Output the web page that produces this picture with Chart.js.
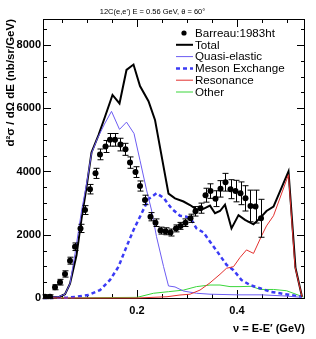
<!DOCTYPE html>
<html>
<head>
<meta charset="utf-8">
<script src="https://cdn.jsdelivr.net/npm/chart.js@4.4.1/dist/chart.umd.min.js"></script>
<style>
html, body { margin: 0; padding: 0; background: #fff; }
#wrap { width: 316px; height: 339px; }
</style>
</head>
<body>
<div id="wrap"><canvas id="xs-chart"></canvas></div>
<script>
// Barreau 1983 data points: energy transfer (GeV), cross section, error
const dataNu = [
	0.016, 0.026, 0.036, 0.046, 0.056, 0.066, 0.076, 0.087, 0.096, 0.106,
	0.117, 0.126, 0.137, 0.146, 0.156, 0.167, 0.177, 0.186, 0.197, 0.206,
	0.216, 0.227, 0.237, 0.247, 0.257, 0.267, 0.278, 0.287, 0.297, 0.307,
	0.317, 0.327, 0.337, 0.347, 0.357, 0.367, 0.377, 0.387, 0.397, 0.407,
	0.417, 0.427, 0.437, 0.448
]
const dataXs = [
	40, 40, 340, 500, 760, 1180, 1620, 2200, 2780, 3440,
	3940, 4540, 4790, 5000, 5000, 4850, 4700, 4280, 3980, 3540,
	3100, 2570, 2380, 2130, 2110, 2070, 2200, 2280, 2380, 2520,
	2740, 2840, 3250, 3380, 3140, 3450, 3660, 3440, 3380, 3310,
	3150, 2910, 2890, 2520
]
const dataErr = [
	60, 60, 80, 90, 100, 110, 120, 130, 140, 150,
	160, 170, 190, 200, 200, 200, 190, 180, 170, 160,
	150, 130, 120, 110, 110, 110, 110, 110, 120, 130,
	150, 160, 220, 230, 250, 260, 280, 300, 340, 360,
	400, 500, 520, 600
]

// model curves
const totalNu = [0.012, 0.045, 0.056, 0.066, 0.079, 0.089, 0.099, 0.109, 0.123, 0.136, 0.151, 0.165, 0.179, 0.193, 0.206, 0.223, 0.236, 0.263, 0.276, 0.293, 0.306, 0.319, 0.333, 0.346, 0.356, 0.366, 0.376, 0.389, 0.403, 0.416, 0.433, 0.447, 0.459, 0.473, 0.503, 0.517, 0.530]
const totalXs = [0, 40, 120, 450, 1350, 2500, 3500, 4600, 5150, 5730, 6420, 6150, 7210, 7380, 6700, 6220, 5630, 3300, 3150, 3050, 2940, 2800, 2820, 2920, 2680, 2750, 2950, 2200, 2620, 2470, 2330, 2540, 2750, 2890, 4000, 950, 40]

const qeNu = [0.012, 0.043, 0.056, 0.066, 0.076, 0.089, 0.099, 0.109, 0.121, 0.135, 0.149, 0.165, 0.179, 0.194, 0.206, 0.219, 0.229, 0.239, 0.253, 0.263, 0.276, 0.293, 0.319, 0.346, 0.400, 0.450, 0.500, 0.530]
const qeXs = [0, 40, 120, 450, 1400, 2750, 3600, 4570, 5050, 5500, 5900, 5330, 5560, 5200, 4350, 3420, 2780, 1940, 1000, 380, 350, 220, 150, 120, 100, 100, 60, 20]

const mecNu = [0.012, 0.060, 0.080, 0.103, 0.126, 0.146, 0.163, 0.179, 0.193, 0.206, 0.223, 0.239, 0.253, 0.269, 0.286, 0.299, 0.309, 0.319, 0.333, 0.346, 0.359, 0.379, 0.393, 0.409, 0.426, 0.446, 0.466, 0.486, 0.506, 0.530]
const mecXs = [0, 10, 40, 95, 250, 570, 990, 1620, 2150, 2570, 3130, 3310, 3170, 2830, 2600, 2570, 2470, 2200, 2070, 1780, 1500, 1050, 880, 570, 410, 310, 200, 150, 95, 40]

const resNu = [0.012, 0.200, 0.260, 0.286, 0.306, 0.326, 0.346, 0.366, 0.379, 0.393, 0.406, 0.419, 0.433, 0.449, 0.459, 0.473, 0.503, 0.516, 0.530]
const resXs = [0, 0, 40, 95, 120, 250, 480, 750, 940, 990, 1280, 1520, 1410, 1960, 2280, 2600, 3900, 990, 40]

const othNu = [0.012, 0.200, 0.233, 0.263, 0.293, 0.319, 0.346, 0.366, 0.386, 0.406, 0.429, 0.446, 0.473, 0.499, 0.533]
const othXs = [0, 20, 150, 200, 250, 360, 410, 410, 360, 360, 370, 270, 270, 230, 30]

const xTickLabels = [0.2, 0.4]
const yTickLabels = [0, 2000, 4000, 6000, 8000]

const pts = (xs, ys) => xs.map((v, i) => ({ x: v, y: ys[i] }))

// box frame with inward ticks on all four sides
const frameTicks = {
	id: 'frameTicks',
	beforeDatasetsDraw(chart) {
		const { ctx, chartArea: a, scales: { x, y } } = chart
		ctx.save()
		ctx.strokeStyle = '#000'
		ctx.lineWidth = 1
		ctx.strokeRect(a.left + 0.5, a.top + 0.5, a.right - a.left - 1, a.bottom - a.top)
		ctx.beginPath()
		for (let i = 1; i * 0.05 < x.max; i++) {
			const v = i * 0.05
			if (v <= x.min) continue
			const px = Math.round(x.getPixelForValue(v)) + 0.5
			const len = i % 4 === 0 ? 8 : 4
			ctx.moveTo(px, a.bottom)
			ctx.lineTo(px, a.bottom - len)
			ctx.moveTo(px, a.top)
			ctx.lineTo(px, a.top + len)
		}
		for (let i = 1; i * 500 < y.max; i++) {
			const py = Math.round(y.getPixelForValue(i * 500)) + 0.5
			const len = i % 4 === 0 ? 8 : 4
			ctx.moveTo(a.left, py)
			ctx.lineTo(a.left + len, py)
			ctx.moveTo(a.right, py)
			ctx.lineTo(a.right - len, py)
		}
		ctx.stroke()
		ctx.restore()
	}
}

const errorBars = {
	id: 'errorBars',
	afterDatasetsDraw(chart) {
		const { ctx, scales: { x, y } } = chart
		ctx.save()
		ctx.strokeStyle = '#000'
		ctx.lineWidth = 1
		ctx.beginPath()
		dataNu.forEach((nu, i) => {
			const px = Math.round(x.getPixelForValue(nu)) + 0.5
			const top = y.getPixelForValue(dataXs[i] + dataErr[i])
			const bot = y.getPixelForValue(dataXs[i] - dataErr[i])
			ctx.moveTo(px, top)
			ctx.lineTo(px, bot)
			ctx.moveTo(px - 3, top)
			ctx.lineTo(px + 3, top)
			ctx.moveTo(px - 3, bot)
			ctx.lineTo(px + 3, bot)
		})
		ctx.stroke()
		ctx.restore()
	}
}

// legend inside the frame, top right
const boxLegend = {
	id: 'boxLegend',
	afterDraw(chart) {
		const { ctx } = chart
		ctx.save()
		ctx.font = '11.6px "Liberation Sans", Arial, sans-serif'
		ctx.textBaseline = 'middle'
		ctx.fillStyle = '#000'
		chart.data.datasets.forEach((ds, i) => {
			const yy = 33 + i * 11.8
			if (ds.showLine) {
				ctx.strokeStyle = ds.borderColor
				ctx.lineWidth = ds.borderWidth
				ctx.setLineDash(ds.borderDash || [])
				ctx.beginPath()
				ctx.moveTo(176, yy)
				ctx.lineTo(193, yy)
				ctx.stroke()
				ctx.setLineDash([])
			} else {
				ctx.beginPath()
				ctx.arc(184, yy, 2.6, 0, Math.PI * 2)
				ctx.fill()
			}
			ctx.fillText(ds.label, 195, yy + 0.5)
		})
		ctx.restore()
	}
}

const lineSet = (label, xs, ys, color, width, order, dash) => ({
	label,
	data: pts(xs, ys),
	showLine: true,
	borderColor: color,
	backgroundColor: color,
	borderWidth: width,
	borderDash: dash,
	pointRadius: 0,
	tension: 0,
	clip: 3,
	order
})

new Chart(document.getElementById('xs-chart'), {
	type: 'scatter',
	data: {
		datasets: [
			{
				label: 'Barreau:1983ht',
				data: pts(dataNu, dataXs),
				showLine: false,
				pointRadius: 3,
				pointBackgroundColor: '#000',
				pointBorderColor: '#000',
				pointBorderWidth: 0,
				order: 0
			},
			lineSet('Total', totalNu, totalXs, '#000', 2, 3),
			lineSet('Quasi-elastic', qeNu, qeXs, '#6c5cf2', 1, 2),
			lineSet('Meson Exchange', mecNu, mecXs, '#3b3bf5', 2.5, 4, [4, 3]),
			lineSet('Resonance', resNu, resXs, '#e3312f', 1, 1),
			lineSet('Other', othNu, othXs, '#3ad63a', 1, 5)
		]
	},
	options: {
		responsive: true,
		maintainAspectRatio: false,
		animation: false,
		devicePixelRatio: 1,
		layout: { padding: { left: 0, right: 11, top: 0, bottom: 0 } },
		plugins: {
			legend: { display: false },
			tooltip: { enabled: false },
			title: {
				display: true,
				text: "12C(e,e') E = 0.56 GeV, θ = 60°",
				color: '#000',
				font: { family: '"Liberation Sans", Arial, sans-serif', size: 7.5, weight: 'normal' },
				padding: { top: 7, bottom: 3 }
			}
		},
		scales: {
			x: {
				type: 'linear',
				min: 0.012,
				max: 0.536,
				grid: { display: false, drawTicks: false },
				border: { display: false },
				afterBuildTicks: (s) => { s.ticks = xTickLabels.map((v) => ({ value: v })) },
				afterFit: (s) => { s.height = 41 },
				ticks: {
					color: '#000',
					padding: 6,
					maxRotation: 0,
					font: { family: '"Liberation Sans", Arial, sans-serif', size: 11, weight: 'bold' },
					callback: (v) => v.toFixed(1)
				},
				title: {
					display: true,
					text: 'ν = E-E′ (GeV)',
					align: 'end',
					color: '#000',
					font: { family: '"Liberation Sans", Arial, sans-serif', size: 11, weight: 'bold' },
					padding: { top: 0, bottom: 3 }
				}
			},
			y: {
				min: 0,
				max: 8820,
				grid: { display: false, drawTicks: false },
				border: { display: false },
				afterBuildTicks: (s) => { s.ticks = yTickLabels.map((v) => ({ value: v })) },
				afterFit: (s) => { s.width = 43 },
				ticks: {
					color: '#000',
					padding: 2,
					font: { family: '"Liberation Sans", Arial, sans-serif', size: 11, weight: 'bold' },
					callback: (v) => String(v)
				},
				title: {
					display: true,
					text: 'd²σ / dΩ dE (nb/sr/GeV)',
					align: 'end',
					color: '#000',
					font: { family: '"Liberation Sans", Arial, sans-serif', size: 11.5, weight: 'bold' },
					padding: { top: 4, bottom: 0 }
				}
			}
		}
	},
	plugins: [frameTicks, errorBars, boxLegend]
})
</script>
</body>
</html>
